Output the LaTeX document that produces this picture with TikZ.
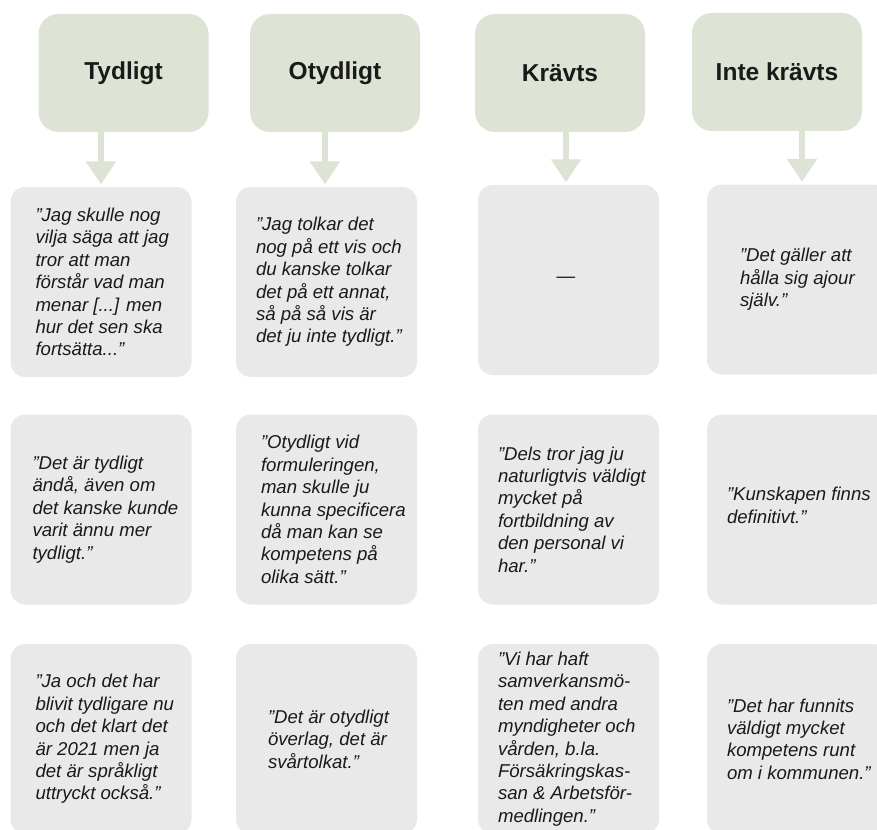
\documentclass[tikz,border=0pt]{standalone}
\usepackage{fontspec}
\setmainfont{Liberation Sans}
\usetikzlibrary{arrows.meta,calc}
\definecolor{hdrfill}{HTML}{DDE3D5}
\definecolor{qfill}{HTML}{E9E9E9}
\definecolor{txt}{HTML}{1A1A1A}
\begin{document}
\begin{tikzpicture}[x=1pt,y=-1pt,
  hdr/.style={rectangle, rounded corners=20pt, fill=hdrfill, minimum width=170pt, minimum height=118pt, inner sep=0pt,
    font=\bfseries\fontsize{24.5}{28}\selectfont, text=txt},
  qbox/.style={rectangle, rounded corners=15pt, fill=qfill, minimum width=181pt, minimum height=190pt, inner sep=0pt},
  qtext/.style={anchor=west, align=left, inner sep=0pt, text=txt, font=\itshape\fontsize{18.6}{22.4}\selectfont},
  arr/.style={draw=hdrfill, line width=6.6pt, -{Triangle[width=29pt,length=23pt]}, shorten >=2.5pt}]
\useasboundingbox (0,0) rectangle (877,829);
\clip (0,0) rectangle (877,829);
\fill[white] (0,0) rectangle (877,829);
% headers
\node[hdr] (h1) at (123.5,73) {Tydligt};
\node[hdr] (h2) at (335,73) {Otydligt};
\node[hdr] (h3) at (560,73) {Krävts};
\node[hdr] (h4) at (777,72) {Inte krävts};
% row 1
\node[qbox] (q1) at (101,282) {};
\node[qbox] (q2) at (326.5,282) {};
\node[qbox] (q3) at (568.5,280) {};
\node[qbox] (q4) at (797.5,279.5) {};
% row 2
\node[qbox] (q5) at (101,509.5) {};
\node[qbox] (q6) at (326.5,509.5) {};
\node[qbox] (q7) at (568.5,509.5) {};
\node[qbox] (q8) at (797.5,509.5) {};
% row 3
\node[qbox] (q9) at (101,739) {};
\node[qbox] (q10) at (326.5,739) {};
\node[qbox] (q11) at (568.5,739) {};
\node[qbox] (q12) at (797.5,739) {};
% arrows
\draw[arr] (h1.south -| q1.north) -- (q1.north);
\draw[arr] ($(h2.south -| q2.north)+(-1.5pt,0)$) -- ($(q2.north)+(-1.5pt,0)$);
\draw[arr] ($(h3.south -| q3.north)+(-2.5pt,0)$) -- ($(q3.north)+(-2.5pt,0)$);
\draw[arr] ($(h4.south -| q4.north)+(4.5pt,0)$) -- ($(q4.north)+(4.5pt,0)$);
% texts row 1
\node[qtext] (t1) at ($(q1.west)+(25pt,0)$) {”Jag skulle nog\\vilja säga att jag\\tror att man\\förstår vad man\\menar [...] men\\hur det sen ska\\fortsätta...”};
\node[qtext] (t2) at ($(q2.west)+(20pt,0)$) {”Jag tolkar det\\nog på ett vis och\\du kanske tolkar\\det på ett annat,\\så på så vis är\\det ju inte tydligt.”};
\node[inner sep=0pt, text=txt, font=\fontsize{18.6}{22.4}\selectfont] (t3) at ($(q3.center)+(-2.5pt,0)$) {—};
\node[qtext] (t4) at ($(q4.west)+(33pt,0)$) {”Det gäller att\\hålla sig ajour\\själv.”};
% texts row 2
\node[qtext] (t5) at ($(q5.west)+(22pt,0)$) {”Det är tydligt\\ändå, även om\\det kanske kunde\\varit ännu mer\\tydligt.”};
\node[qtext] (t6) at ($(q6.west)+(25pt,0)$) {”Otydligt vid\\formuleringen,\\man skulle ju\\kunna specificera\\då man kan se\\kompetens på\\olika sätt.”};
\node[qtext] (t7) at ($(q7.west)+(20pt,0)$) {”Dels tror jag ju\\naturligtvis väldigt\\mycket på\\fortbildning av\\den personal vi\\har.”};
\node[qtext] (t8) at ($(q8.west)+(20pt,4pt)$) {”Kunskapen finns\\definitivt.”};
% texts row 3
\node[qtext] (t9) at ($(q9.west)+(25pt,0)$) {”Ja och det har\\blivit tydligare nu\\och det klart det\\är 2021 men ja\\det är språkligt\\uttryckt också.”};
\node[qtext] (t10) at ($(q10.west)+(32pt,0)$) {”Det är otydligt\\överlag, det är\\svårtolkat.”};
\node[qtext] (t11) at ($(q11.west)+(20pt,0)$) {”Vi har haft\\samverkansmö-\\ten med andra\\myndigheter och\\vården, b.la.\\Försäkringskas-\\san \& Arbetsför-\\medlingen.”};
\node[qtext] (t12) at ($(q12.west)+(20pt,0)$) {”Det har funnits\\väldigt mycket\\kompetens runt\\om i kommunen.”};
\end{tikzpicture}
\end{document}
